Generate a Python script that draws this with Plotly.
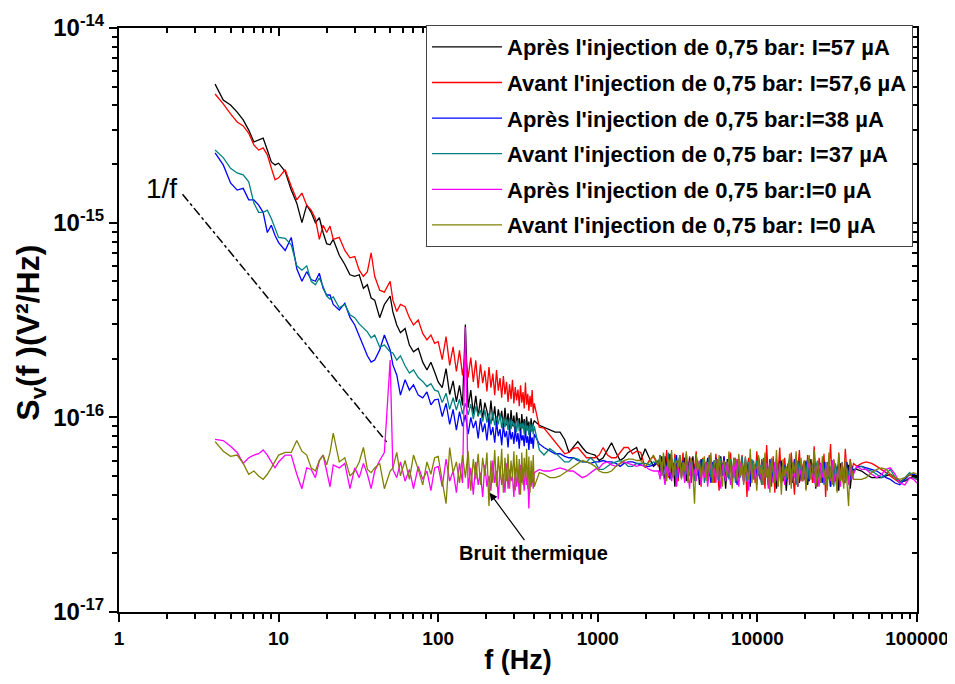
import numpy as np
import plotly.graph_objects as go

# frequency grids (Hz) for the different parts of the spectra
f_low = [4, 4.5, 5, 5.5, 6, 6.5, 7, 7.5, 8, 8.5, 9, 9.5, 10, 11, 12, 13, 14, 15, 16, 17,
         18, 19, 20, 21, 22, 24, 26, 28, 30, 32, 34, 36, 38, 40, 43, 46, 50, 52, 55, 58,
         62, 66, 70, 75, 80, 85, 90, 95]
f_fft = list(range(100, 401, 6))
f_mid = [430, 460, 500, 540, 580, 620, 660, 700, 750, 800, 850, 900, 960, 1020, 1080,
         1150, 1220, 1300, 1380, 1460, 1550, 1650, 1750, 1860, 1980, 2100, 2230]
f_hf = list(np.geomspace(2400, 40000, 120))
f_top = [42000, 45000, 48000, 52000, 56000, 60000, 64000, 68000, 73000, 78000, 84000,
         90000, 95000, 100000]
freq = f_low + f_fft + f_mid + f_hf + f_top

UNIT = 1e-17  # values below are in 1e-17 V^2/Hz

apres_57 = [
    515, 427, 402, 370, 337, 299, 260, 266, 272, 236, 205, 198, 202, 183, 147, 126, 100, 123,
    113, 100, 106, 89, 78, 77, 82, 68, 61, 54, 53, 54, 46, 48, 41, 40, 32.5, 38, 42, 34.8,
    29.8, 27.2, 28.6, 23.5, 21.7, 22.6, 19.2, 17.5, 19.2, 17.1,
    # 100-400 Hz
    15.2, 14.2, 17.8, 13.1, 15.4, 12.0, 14.6, 11.5, 30, 11.2, 13.8, 10.4, 12.9, 10.1, 12.4,
    9.8, 11.9, 10.8, 9.3, 12.2, 9.6, 11.4, 8.9, 11.0, 9.7, 10.8, 8.7, 11.2, 9.1, 10.5, 8.6,
    10.9, 9.0, 10.2, 8.4, 10.6, 9.2, 9.9, 8.3, 10.4, 8.8, 9.8, 8.2, 10.1, 8.7, 9.5, 8.1, 9.9,
    8.5, 9.3, 9.6,
    # 430-2230 Hz
    9.1, 8.9, 8.6, 8.4, 8.4, 7.7, 6.6, 7.0, 7.5, 7.0, 6.6, 6.5, 6.4, 6.0, 6.2, 6.8, 7.4, 6.6,
    6.0, 6.2, 6.6, 6.8, 7.0, 6.0, 6.9, 6.2, 5.6,
    # 2.4-40 kHz
    5.9, 5.2, 6.3, 5.5, 4.6, 6.1, 5.4, 6.5, 5.0, 5.8, 4.4, 6.0, 5.3, 6.4, 4.9, 5.7, 6.2, 4.7,
    5.5, 6.0, 5.1, 6.3, 4.8, 5.6, 5.9, 4.5, 6.1, 5.3, 5.8, 4.9, 6.2, 5.0, 5.6, 4.6, 6.0, 5.4,
    5.9, 4.8, 6.3, 5.2, 5.5, 4.3, 6.1, 5.0, 5.7, 4.9, 6.2, 5.3, 4.6, 5.9, 5.1, 6.0, 4.7, 5.6,
    5.2, 6.1, 4.4, 5.8, 5.0, 5.7, 4.8, 6.2, 5.2, 4.5, 5.9, 5.1, 6.0, 4.6, 5.5, 4.9, 6.1, 5.0,
    4.3, 5.8, 5.3, 6.0, 4.7, 5.4, 4.2, 5.6, 5.0, 6.1, 4.6, 5.7, 5.2, 4.4, 6.0, 5.1, 5.6, 4.8,
    5.9, 4.5, 5.4, 6.1, 4.9, 5.3, 4.3, 5.8, 5.0, 5.5, 4.6, 6.0, 5.2, 4.8, 5.7, 4.4, 5.9, 5.1,
    4.7, 5.6, 4.2, 5.8, 5.0, 4.6, 5.5, 4.9, 5.7, 4.3, 5.2, 5.4,
    # 42-100 kHz
    5.4, 5.3, 5.1, 4.9, 4.9, 4.9, 5.0, 5.1, 4.9, 4.7, 4.7, 4.9, 4.9, 4.9]

avant_576 = [
    458, 408, 362, 329, 314, 288, 251, 236, 242, 223, 191, 166, 170, 187, 154, 131, 142, 123,
    116, 105, 82, 97, 89, 96, 82, 84, 72, 66, 67, 57, 53, 56, 70, 53, 45, 44, 50, 40, 35, 38,
    37, 32.5, 29.8, 31.6, 27, 25, 26.5, 24,
    24.5, 19.8, 26.0, 18.5, 23.0, 17.2, 22.1, 16.4, 21.5, 16.0, 20.3, 15.2, 19.6, 14.1, 18.7,
    15.0, 17.4, 13.6, 18.1, 14.2, 16.8, 13.0, 17.5, 13.7, 15.9, 12.6, 16.3, 13.1, 15.2, 12.0,
    14.8, 12.4, 15.6, 11.8, 14.3, 12.2, 13.9, 11.4, 14.6, 11.9, 13.5, 11.1, 15.1, 11.6, 13.2,
    10.8, 12.9, 11.3, 13.8, 10.5, 11.8,
    8.9, 8.8, 8.1, 7.5, 6.9, 6.5, 6.6, 6.9, 7.0, 6.6, 6.2, 6.2, 6.2, 6.4, 7.0, 6.4, 6.2, 6.2,
    6.6, 7.0, 7.0, 6.5, 6.7, 6.6, 5.5, 6.0, 6.3,
    5.6, 6.4, 5.1, 6.0, 5.4, 6.8, 4.9, 5.8, 6.2, 5.0, 6.5, 5.3, 4.7, 6.1, 5.5, 6.6, 4.8, 5.9,
    5.2, 6.3, 4.6, 6.0, 5.4, 6.7, 5.0, 5.7, 4.4, 6.2, 5.3, 5.9, 4.9, 6.4, 5.1, 5.8, 4.6, 6.5,
    5.2, 4.2, 6.0, 5.5, 6.3, 4.8, 5.7, 5.1, 6.6, 4.5, 5.9, 5.3, 6.1, 4.9, 5.6, 6.4, 4.7, 5.8,
    3.9, 6.2, 5.0, 5.5, 6.0, 4.6, 6.7, 5.2, 4.8, 6.1, 5.4, 4.3, 7.2, 5.0, 5.7, 4.4, 6.3, 4.1,
    5.9, 5.2, 7.0, 4.6, 5.5, 6.2, 4.9, 5.8, 4.5, 6.6, 5.1, 4.0, 6.1, 5.4, 6.8, 4.7, 5.6, 6.0,
    4.3, 6.4, 5.0, 5.8, 4.6, 7.1, 5.2, 4.4, 6.2, 5.5, 4.8, 6.5, 3.9, 5.9, 5.3, 7.3, 4.6, 6.0,
    5.1, 4.2, 6.6, 5.0, 5.7, 4.5, 6.9, 5.2, 4.7, 6.1, 5.3, 5.8,
    5.6, 5.8, 5.9, 5.8, 5.6, 5.4, 5.2, 5.0, 4.8, 4.6, 4.9, 5.1, 4.9, 4.8]

apres_38 = [
    228, 198, 160, 147, 150, 131, 131, 123, 113, 89, 97, 86, 79, 72, 84, 58, 50, 56, 51, 50,
    55, 46, 42.5, 42.5, 38, 35.6, 38.5, 32.6, 29.8, 26.3, 23.5, 20.7, 19.2, 19.7, 22.2, 26.5,
    22.2, 18.6, 16.5, 13, 15.6, 13.8, 14.7, 13.0, 12.6, 13.5, 11.6, 12.3,
    12.4, 10.1, 11.8, 9.2, 11.0, 8.6, 10.7, 9.0, 10.3, 8.2, 10.0, 8.8, 9.6, 7.8, 9.9, 8.4,
    9.3, 7.6, 9.7, 8.1, 8.9, 7.4, 9.4, 8.0, 8.7, 7.2, 9.1, 7.9, 8.5, 7.0, 8.9, 7.7, 8.4, 7.3,
    8.8, 7.5, 8.3, 6.9, 8.6, 7.6, 8.1, 7.1, 8.7, 7.4, 8.0, 6.8, 8.4, 7.3, 7.9, 6.9, 8.2,
    7.3, 7.0, 6.7, 6.5, 6.5, 6.3, 6.2, 6.2, 6.0, 5.9, 5.9, 5.8, 5.9, 5.9, 6.0, 5.9, 5.9, 5.8,
    5.6, 5.8, 5.9, 5.9, 5.8, 5.7, 5.6, 5.6, 5.7,
    6.0, 5.4, 5.9, 5.0, 6.3, 5.3, 5.7, 4.8, 6.1, 5.5, 5.2, 6.4, 4.9, 5.8, 5.4, 6.0, 5.1, 5.6,
    4.7, 6.2, 5.3, 5.9, 5.0, 6.3, 5.5, 4.8, 6.0, 5.2, 5.7, 4.9, 6.1, 5.4, 4.6, 5.9, 5.1, 6.2,
    5.3, 4.8, 5.8, 5.0, 6.3, 4.7, 5.6, 5.2, 6.0, 4.9, 5.7, 5.4, 4.5, 6.1, 5.0, 5.8, 4.8, 6.2,
    5.3, 5.5, 4.6, 6.0, 5.1, 5.7, 4.9, 6.3, 5.2, 4.7, 5.9, 5.0, 5.6, 4.5, 6.1, 5.3, 4.8, 5.8,
    5.1, 4.6, 6.0, 5.2, 4.9, 5.7, 4.7, 5.5, 5.9, 4.8, 5.4, 6.1, 5.0, 5.6, 4.6, 5.8, 5.2, 4.9,
    6.0, 5.3, 4.7, 5.7, 5.1, 6.1, 4.8, 5.5, 5.0, 5.8, 4.6, 5.9, 5.2, 4.9, 5.6, 4.4, 6.0, 5.3,
    4.8, 5.4, 5.8, 4.7, 5.5, 5.0, 4.6, 5.9, 5.1, 4.8, 5.6, 5.2,
    5.6, 5.6, 5.5, 5.4, 5.3, 5.1, 4.9, 4.8, 4.6, 4.5, 4.8, 5.1, 5.1, 5.0]

avant_37 = [
    236, 216, 190, 180, 176, 162, 126, 113, 113, 116, 105, 94, 84, 83, 77, 60, 57, 60, 50, 48,
    52, 47, 42, 40.5, 41.5, 36.5, 38, 33.6, 32.5, 30.2, 28.8, 27.5, 25.6, 26.5, 23, 23.5,
    21.7, 21.4, 19.7, 20.7, 18.4, 16.9, 17.5, 16, 15.3, 14.4, 14.9, 13.8,
    13.6, 11.9, 13.3, 11.0, 12.6, 10.9, 12.4, 10.4, 11.8, 10.3, 11.7, 9.8, 11.4, 10.2, 10.9,
    9.5, 10.9, 9.4, 10.5, 9.2, 10.6, 9.1, 10.1, 9.2, 10.4, 8.8, 10.0, 8.9, 9.8, 8.6, 9.9, 8.7,
    9.6, 8.9, 9.4, 8.4, 9.7, 8.5, 9.3, 8.7, 9.4, 8.2, 9.6, 8.5, 9.1, 8.1, 9.3, 8.4, 9.2, 8.2,
    9.0,
    6.8, 6.4, 6.9, 6.6, 6.2, 5.9, 5.9, 6.2, 6.1, 5.9, 5.9, 6.2, 5.9, 5.4, 5.4, 5.6, 5.8, 5.9,
    6.0, 5.9, 5.6, 5.6, 5.8, 5.8, 5.8, 5.7, 5.9,
    5.8, 6.4, 5.3, 6.1, 5.6, 5.0, 6.6, 5.4, 5.9, 5.1, 6.2, 4.8, 5.7, 6.3, 5.2, 5.8, 4.9, 6.5,
    5.4, 5.0, 6.0, 5.5, 4.7, 6.2, 5.3, 5.9, 5.0, 6.1, 4.6, 5.7, 5.2, 6.3, 4.9, 5.6, 6.0, 5.1,
    5.8, 4.7, 6.2, 5.4, 5.0, 5.9, 5.3, 4.8, 6.1, 5.2, 5.7, 4.6, 6.0, 5.5, 4.9, 6.3, 5.1, 5.6,
    4.7, 5.9, 5.3, 6.1, 4.8, 5.4, 6.0, 5.0, 5.7, 4.5, 6.2, 5.2, 5.5, 4.8, 5.9, 5.1, 5.6, 4.7,
    6.1, 5.0, 5.4, 4.6, 5.8, 5.1, 4.8, 5.5, 6.2, 4.9, 5.6, 5.3, 4.5, 6.0, 5.2, 5.7, 4.7, 5.9,
    5.0, 6.1, 4.8, 5.4, 5.8, 4.6, 5.5, 6.0, 4.9, 5.3, 5.7, 4.5, 5.9, 5.1, 4.8, 5.6, 5.2, 4.4,
    5.8, 5.0, 5.4, 4.7, 5.9, 5.2, 4.6, 5.5, 5.0, 5.7, 4.9, 5.3,
    5.5, 5.6, 5.4, 5.3, 5.1, 4.9, 5.1, 5.4, 4.9, 4.6, 4.9, 5.2, 4.9, 4.8]

apres_0 = [
    7.7, 7.6, 7.1, 6.6, 5.8, 6.2, 6.4, 6.5, 6.8, 6.4, 5.9, 5.5, 5.9, 6.4, 6.4, 5.1, 4.3, 5.5,
    5.4, 4.9, 6.0, 6.4, 5.3, 4.4, 5.7, 5.5, 5.8, 4.3, 5.5, 4.9, 5.8, 5.1, 4.3, 5.3, 6.0, 6.6,
    19.7, 5.4, 4.9, 5.9, 4.7, 5.4, 4.3, 5.6, 4.8, 5.3, 4.2, 5.5,
    5.6, 4.4, 6.1, 4.7, 5.3, 4.1, 5.8, 4.6, 29, 4.3, 5.5, 4.0, 5.9, 4.5, 5.2, 3.9, 5.7, 4.4,
    5.0, 4.2, 6.0, 4.6, 5.3, 3.8, 5.6, 4.5, 5.1, 4.1, 5.8, 4.3, 5.4, 4.7, 5.0, 3.9, 5.5, 4.4,
    5.2, 4.0, 5.7, 4.6, 5.1, 4.2, 5.6, 4.5, 5.0, 3.4, 5.3, 4.4, 5.1, 4.3, 5.2,
    5.4, 5.3, 5.3, 5.4, 5.5, 5.4, 5.3, 5.3, 5.1, 4.9, 5.0, 5.2, 5.4, 5.5, 5.8, 5.9, 5.7, 5.6,
    5.8, 5.9, 5.8, 5.7, 5.6, 5.7, 5.6, 5.4, 5.3,
    5.3, 4.8, 5.9, 5.1, 4.5, 5.6, 5.0, 6.0, 4.7, 5.4, 5.8, 4.4, 5.2, 6.1, 4.9, 5.5, 4.6, 5.7,
    5.1, 4.3, 5.9, 5.0, 5.4, 4.7, 6.0, 5.2, 4.5, 5.6, 4.9, 5.8, 4.4, 5.3, 5.9, 4.8, 5.5, 4.6,
    6.1, 5.0, 4.3, 5.7, 5.1, 4.7, 5.9, 5.3, 4.5, 5.6, 4.9, 6.2, 5.2, 4.4, 5.8, 5.0, 4.6, 5.5,
    5.1, 4.2, 5.9, 5.3, 4.8, 5.6, 4.5, 6.0, 5.2, 4.7, 5.4, 4.9, 5.8, 4.3, 5.6, 5.0, 4.6, 5.9,
    5.1, 4.4, 5.7, 4.8, 5.3, 4.5, 5.5, 5.0, 5.8, 4.6, 5.2, 4.9, 6.0, 4.4, 5.5, 5.1, 4.7, 5.7,
    4.3, 5.4, 5.9, 4.8, 5.2, 4.6, 5.6, 5.0, 4.4, 5.8, 4.9, 5.3, 4.5, 5.7, 5.1, 4.7, 6.0, 4.6,
    5.2, 4.9, 5.5, 4.4, 5.8, 5.0, 4.7, 5.4, 4.5, 5.6, 4.8, 5.1,
    5.6, 5.4, 5.4, 5.1, 4.9, 5.1, 5.4, 5.5, 5.1, 4.6, 4.5, 4.9, 4.8, 4.6]

avant_0 = [
    7.5, 6.7, 6.3, 6.4, 5.8, 5.1, 5.3, 5.0, 4.8, 5.1, 5.5, 6.0, 6.4, 6.6, 6.6, 7.6, 6.7, 6.4,
    5.5, 5.3, 6.0, 6.4, 5.7, 6.6, 8.3, 5.9, 6.2, 5.0, 5.3, 5.9, 7.0, 5.4, 5.2, 5.5, 5.8, 4.3,
    5.3, 5.5, 6.6, 5.0, 6.0, 4.8, 6.4, 5.4, 4.5, 5.9, 5.1, 6.2,
    6.3, 4.7, 3.6, 7.0, 5.2, 5.9, 4.6, 6.4, 4.9, 6.7, 4.2, 6.1, 4.8, 6.5, 4.5, 6.2, 5.0, 6.6,
    3.5, 6.0, 4.6, 6.8, 4.4, 6.3, 4.8, 6.9, 4.1, 6.2, 4.7, 6.5, 4.3, 6.0, 4.9, 6.7, 4.2, 6.4,
    4.6, 6.1, 4.0, 6.6, 4.5, 6.2, 4.8, 6.9, 4.3, 6.3, 4.1, 6.0, 4.6, 6.4, 4.4,
    5.2, 5.1, 4.9, 4.9, 5.0, 5.2, 5.4, 5.6, 5.8, 6.0, 5.9, 5.8, 5.6, 5.3, 5.2, 5.2, 5.3, 5.6,
    5.8, 6.0, 6.1, 6.1, 6.0, 6.0, 5.6, 5.9, 6.4,
    5.7, 6.3, 5.0, 6.6, 5.4, 4.7, 6.1, 5.2, 6.8, 4.9, 5.8, 6.0, 5.5, 6.4, 4.8, 5.9, 5.3, 6.7,
    4.6, 5.8, 6.2, 5.1, 3.6, 6.5, 5.4, 6.0, 4.9, 5.6, 6.3, 4.7, 5.9, 5.2, 6.6, 4.6, 5.7, 6.1,
    4.8, 6.4, 5.3, 4.4, 6.0, 5.5, 4.9, 6.7, 5.1, 4.3, 6.2, 5.6, 4.7, 6.5, 5.0, 5.8, 4.5, 6.3,
    5.2, 4.8, 6.9, 4.6, 5.9, 5.3, 4.2, 6.4, 5.1, 5.7, 4.5, 6.6, 4.9, 5.5, 4.1, 6.2, 5.3, 4.6,
    6.8, 4.4, 5.8, 4.0, 6.1, 5.0, 5.6, 4.9, 6.5, 4.3, 5.9, 5.2, 6.7, 4.5, 5.4, 6.2, 4.7, 6.0,
    4.2, 5.7, 6.4, 4.8, 5.3, 6.8, 4.4, 5.9, 5.1, 4.6, 6.3, 4.9, 5.5, 4.2, 6.6, 5.0, 4.5, 6.1,
    5.4, 4.1, 6.5, 4.7, 5.8, 4.3, 6.2, 4.6, 3.5, 6.0, 5.2, 4.8,
    4.8, 4.8, 4.9, 5.2, 5.4, 5.5, 5.4, 5.1, 4.9, 4.8, 4.9, 5.1, 5.2, 5.1]

series_names = [
    "Après l'injection de 0,75 bar: I=57 µA",
    "Avant l'injection de 0,75 bar: I=57,6 µA",
    "Après l'injection de 0,75 bar:I=38 µA",
    "Avant l'injection de 0,75 bar: I=37 µA",
    "Après l'injection de 0,75 bar:I=0 µA",
    "Avant l'injection de 0,75 bar: I=0 µA",
]
series_values = [apres_57, avant_576, apres_38, avant_37, apres_0, avant_0]
series_colors = ["#000000", "#ff0000", "#0000ff", "#008080", "#ff00ff", "#808000"]

# 1/f guide line end points
guide_f = [2.5, 48]
guide_sv = [1.4e-15, 7.4e-17]

for v in series_values:
    if len(v) != len(freq):
        raise ValueError(f"length {len(v)} != {len(freq)}")

FONT = "Liberation Sans, Arial, sans-serif"

fig = go.Figure()
fig.add_trace(go.Scatter(x=guide_f, y=guide_sv, mode="lines", showlegend=False,
                         line=dict(color="black", width=1.5, dash="dashdot")))

for name, vals, col in zip(series_names, series_values, series_colors):
    fig.add_trace(go.Scatter(
        x=freq, y=np.array(vals) * UNIT, mode="lines", name=name, legendgroup=name,
        line=dict(color=col, width=1.3)))

# dummy trace to carry the mirrored top/right axes
fig.add_trace(go.Scatter(x=[10], y=[1e-15], xaxis="x2", yaxis="y2", mode="markers",
                         marker=dict(opacity=0), showlegend=False, hoverinfo="skip"))

x_major = [1, 10, 100, 1000, 10000, 100000]
x_labels = ["1", "10", "100", "1000", "10000", "100000"]
x_minor = [m * d for d in [1, 10, 100, 1000, 10000] for m in range(2, 10)]
y_major = [1e-17, 1e-16, 1e-15, 1e-14]
y_labels = ["10<sup>-17</sup>", "10<sup>-16</sup>", "10<sup>-15</sup>", "10<sup>-14</sup>"]
y_minor = [m * d for d in [1e-17, 1e-16, 1e-15] for m in range(2, 10)]

common = dict(type="log", showgrid=False, zeroline=False, showline=True, linewidth=2,
              linecolor="black", tickwidth=2, tickcolor="black", automargin=False)

# the page body adds an 8 px margin, so the figure is 8 px smaller than the window
fig.update_layout(
    width=947, height=676, autosize=False,
    margin=dict(l=111, r=38, t=20, b=72),
    paper_bgcolor="white", plot_bgcolor="white",
    font=dict(family=FONT, color="black"),
    xaxis=dict(**common, range=[0, 5], tickmode="array", tickvals=x_major, ticktext=x_labels,
               ticks="outside", ticklen=8,
               tickfont=dict(family=FONT, size=19, color="black", weight="bold"),
               minor=dict(tickmode="array", tickvals=x_minor, ticks="outside", ticklen=5,
                          tickwidth=1.5, tickcolor="black", showgrid=False),
               title=dict(text="f (Hz)", standoff=2,
                          font=dict(family=FONT, size=27, weight="bold"))),
    yaxis=dict(**common, range=[-17, -14], tickmode="array", tickvals=y_major, ticktext=y_labels,
               ticks="outside", ticklen=8,
               tickfont=dict(family=FONT, size=24, color="black", weight="bold"),
               minor=dict(tickmode="array", tickvals=y_minor, ticks="outside", ticklen=5,
                          tickwidth=1.5, tickcolor="black", showgrid=False)),
    xaxis2=dict(**common, range=[0, 5], overlaying="x", side="top", anchor="y",
                tickmode="array", tickvals=x_major, ticks="inside", ticklen=8,
                showticklabels=False,
                minor=dict(tickmode="array", tickvals=x_minor, ticks="inside", ticklen=5,
                           tickwidth=1.5, tickcolor="black", showgrid=False)),
    yaxis2=dict(**common, range=[-17, -14], overlaying="y", side="right", anchor="x",
                tickmode="array", tickvals=y_major, ticks="inside", ticklen=8,
                showticklabels=False,
                minor=dict(tickmode="array", tickvals=y_minor, ticks="inside", ticklen=5,
                           tickwidth=1.5, tickcolor="black", showgrid=False)),
    legend=dict(x=0.995, y=1.005, xanchor="right", yanchor="top", bgcolor="white",
                bordercolor="#444", borderwidth=1, tracegroupgap=4, itemwidth=70,
                font=dict(family=FONT, size=22, color="black", weight="bold")),
    showlegend=True,
)

# y axis title, placed a little below the plot centre as in the original
fig.add_annotation(x=-0.111, y=0.479, xref="paper", yref="paper", textangle=-90,
                   text="S<sub>v</sub>(f )(V²/Hz)", showarrow=False,
                   xanchor="center", yanchor="middle",
                   font=dict(family=FONT, size=32, color="black", weight="bold"))
fig.add_annotation(x=np.log10(1.85), y=np.log10(1.5e-15), xref="x", yref="y", text="1/f",
                   showarrow=False, font=dict(family=FONT, size=28, color="black"))
fig.add_annotation(x=np.log10(210), y=np.log10(4.1e-17), xref="x", yref="y",
                   text="Bruit thermique", showarrow=True, arrowhead=2, arrowsize=1.3,
                   arrowwidth=1.2, arrowcolor="black", ax=44, ay=60,
                   font=dict(family=FONT, size=20, color="black", weight="bold"))

fig.write_html("out.html")
